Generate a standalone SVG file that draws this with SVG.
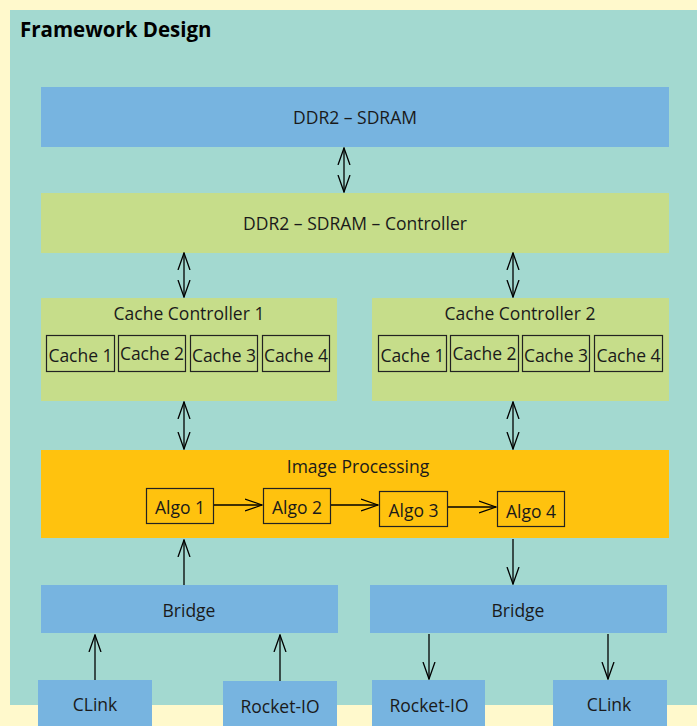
<svg xmlns="http://www.w3.org/2000/svg" width="697" height="726" viewBox="0 0 697 726">
<defs>
<marker id="ah" viewBox="0 0 18 14" refX="17" refY="7" markerWidth="18" markerHeight="14" markerUnits="userSpaceOnUse" orient="auto-start-reverse">
<path d="M0,1 L17,7 L0,13" fill="none" stroke="#000" stroke-width="1.3"/>
</marker>
</defs>
<style>
text{font-family:"Open Sans","Noto Sans","DejaVu Sans",sans-serif;font-size:17.5px;fill:#1a1a1a;text-anchor:middle;dominant-baseline:central}
.title{font-weight:bold;font-size:20.5px;text-anchor:start;fill:#000}
.blue{fill:#77B4E0}
.green{fill:#C6DD8A}
.orange{fill:#FFC20E}
.box{fill:none;stroke:#222;stroke-width:1.2}
.c{stroke:#000;stroke-width:1.3;fill:none}
</style>
<rect x="0" y="0" width="697" height="726" fill="#FFF9CC"/>
<rect x="10" y="10" width="687" height="695" fill="#A3D9D0"/>
<text class="title" x="20" y="29">Framework Design</text>

<g id="ddr2">
<rect class="blue" x="41" y="87" width="628" height="60"/>
<text x="355" y="117">DDR2 – SDRAM</text>
</g>
<g id="ddr2ctrl">
<rect class="green" x="41" y="193" width="628" height="60"/>
<text x="355" y="223">DDR2 – SDRAM – Controller</text>
</g>
<g id="cc1">
<rect class="green" x="41" y="298" width="296" height="103"/>
<text x="189" y="313">Cache Controller 1</text>
<rect class="box" x="46.5" y="335.5" width="68" height="36"/>
<text x="80.5" y="355">Cache 1</text>
<rect class="box" x="118.5" y="335.5" width="67" height="36"/>
<text x="152" y="353">Cache 2</text>
<rect class="box" x="190.5" y="335.5" width="67" height="36"/>
<text x="224" y="355">Cache 3</text>
<rect class="box" x="262.5" y="335.5" width="67" height="36"/>
<text x="296" y="355">Cache 4</text>
</g>
<g id="cc2">
<rect class="green" x="372" y="298" width="297" height="103"/>
<text x="520" y="313">Cache Controller 2</text>
<rect class="box" x="378.5" y="335.5" width="68" height="36"/>
<text x="412.5" y="355">Cache 1</text>
<rect class="box" x="450.5" y="335.5" width="68" height="36"/>
<text x="484.5" y="353">Cache 2</text>
<rect class="box" x="522.5" y="335.5" width="67" height="36"/>
<text x="556" y="355">Cache 3</text>
<rect class="box" x="594.5" y="335.5" width="68" height="36"/>
<text x="628.5" y="355">Cache 4</text>
</g>
<g id="imgproc">
<rect class="orange" x="41" y="450" width="628" height="88"/>
<text x="358" y="466">Image Processing</text>
</g>
<g id="algo1">
<rect class="box" x="146.5" y="488.5" width="67" height="35"/>
<text x="180" y="507">Algo 1</text>
</g>
<g id="algo2">
<rect class="box" x="263.5" y="488.5" width="67" height="35"/>
<text x="297" y="507">Algo 2</text>
</g>
<g id="algo3">
<rect class="box" x="379.5" y="491.5" width="68" height="35"/>
<text x="413.5" y="510">Algo 3</text>
</g>
<g id="algo4">
<rect class="box" x="497.5" y="491.5" width="67" height="35"/>
<text x="531" y="511">Algo 4</text>
</g>
<g id="bridge1">
<rect class="blue" x="41" y="585" width="297" height="48"/>
<text x="189" y="610">Bridge</text>
</g>
<g id="bridge2">
<rect class="blue" x="370" y="585" width="297" height="48"/>
<text x="518" y="610">Bridge</text>
</g>
<g id="clink1">
<rect class="blue" x="38" y="680" width="114" height="46"/>
<text x="95" y="704">CLink</text>
</g>
<g id="rocket1">
<rect class="blue" x="223" y="681" width="114" height="45"/>
<text x="280" y="706">Rocket-IO</text>
</g>
<g id="rocket2">
<rect class="blue" x="372" y="680" width="113" height="46"/>
<text x="429" y="705">Rocket-IO</text>
</g>
<g id="clink2">
<rect class="blue" x="553" y="680" width="114" height="46"/>
<text x="609" y="704">CLink</text>
</g>

<g id="connectors">
<line class="c" x1="344" y1="148" x2="344" y2="192" marker-start="url(#ah)" marker-end="url(#ah)"/>
<line class="c" x1="184" y1="253" x2="184" y2="297" marker-start="url(#ah)" marker-end="url(#ah)"/>
<line class="c" x1="513" y1="253" x2="513" y2="297" marker-start="url(#ah)" marker-end="url(#ah)"/>
<line class="c" x1="184" y1="402" x2="184" y2="449" marker-start="url(#ah)" marker-end="url(#ah)"/>
<line class="c" x1="513" y1="402" x2="513" y2="449" marker-start="url(#ah)" marker-end="url(#ah)"/>
<line class="c" x1="214" y1="505" x2="262" y2="505" marker-end="url(#ah)"/>
<line class="c" x1="331" y1="505" x2="378" y2="505" marker-end="url(#ah)"/>
<line class="c" x1="448" y1="507" x2="496" y2="507" marker-end="url(#ah)"/>
<line class="c" x1="184" y1="585" x2="184" y2="540" marker-end="url(#ah)"/>
<line class="c" x1="513" y1="539" x2="513" y2="584" marker-end="url(#ah)"/>
<line class="c" x1="95" y1="680" x2="95" y2="635" marker-end="url(#ah)"/>
<line class="c" x1="280" y1="681" x2="280" y2="635" marker-end="url(#ah)"/>
<line class="c" x1="429" y1="634" x2="429" y2="679" marker-end="url(#ah)"/>
<line class="c" x1="608" y1="634" x2="608" y2="679" marker-end="url(#ah)"/>
</g>
</svg>
